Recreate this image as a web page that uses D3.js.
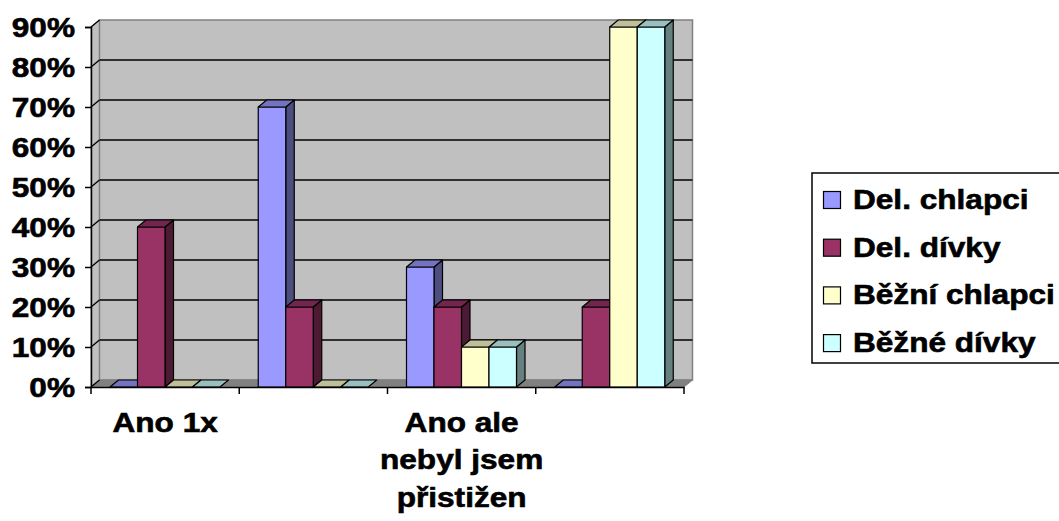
<!DOCTYPE html>
<html><head><meta charset="utf-8">
<script src="https://cdn.jsdelivr.net/npm/d3@7"></script>
<style>
html,body{margin:0;padding:0;background:#fff;}
text{font-family:"Liberation Sans",Arial,sans-serif;font-weight:bold;fill:#000;stroke:#000;stroke-width:0.6px;}
</style></head>
<body><svg id="c" width="1059" height="521"></svg>
<script>
const categories = ["Ano 1x", "", "Ano ale\nnebyl jsem\npřistižen", ""];
const seriesNames = ["Del. chlapci", "Del. dívky", "Běžní chlapci", "Běžné dívky"];
const delChlapci = [0, 0.7, 0.3, 0];
const delDivky = [0.4, 0.2, 0.2, 0.2];
const bezniChlapci = [0, 0, 0.1, 0.9];
const bezneDivky = [0, 0, 0.1, 0.9];
const yTicks = [0, 0.1, 0.2, 0.3, 0.4, 0.5, 0.6, 0.7, 0.8, 0.9];
const seriesValues = [delChlapci, delDivky, bezniChlapci, bezneDivky];
const faceColors = ["#9999FF", "#993366", "#FFFFCC", "#CCFFFF"];
const topColors = ["#7373BF", "#73264D", "#BFBF99", "#99BFBF"];
const sideColors = ["#4D4D80", "#4D1A33", "#808066", "#668080"];

const svg = d3.select("#c");
const X0 = 91, X1 = 684, Y0 = 387, Y1 = 27;
const DX = 8.5, DY = -7;
const sx = 1.17;
const FS = 27;

const x = d3.scaleBand().domain(d3.range(categories.length)).range([X0, X1]);
const x1 = d3.scaleBand().domain(d3.range(seriesNames.length)).range([19, 129]);
const y = d3.scaleLinear().domain([0, 0.9]).range([Y0, Y1]);

const pts = a => a.map(p => p.join(",")).join(" ");

// side wall (left)
svg.append("polygon").attr("points", pts([[X0, Y0], [X0 + DX, Y0 + DY], [X0 + DX, Y1 + DY], [X0, Y1]]))
  .attr("fill", "#C0C0C0").attr("stroke", "#808080").attr("stroke-width", 1);
// back wall
svg.append("polygon").attr("points", pts([[X0 + DX, Y0 + DY], [X1 + DX, Y0 + DY], [X1 + DX, Y1 + DY], [X0 + DX, Y1 + DY]]))
  .attr("fill", "#C0C0C0").attr("stroke", "#808080").attr("stroke-width", 1.5);
// floor
svg.append("polygon").attr("points", pts([[X0, Y0], [X1, Y0], [X1 + DX, Y0 + DY], [X0 + DX, Y0 + DY]]))
  .attr("fill", "#808080").attr("stroke", "#808080").attr("stroke-width", 1);

// gridlines
const grid = svg.append("g");
yTicks.filter(t => t > 0 && t < 0.9).forEach(t => {
  const yy = y(t);
  grid.append("line").attr("x1", X0 + DX).attr("x2", X1 + DX).attr("y1", yy + DY).attr("y2", yy + DY)
    .attr("stroke", "#000").attr("stroke-width", 1.6);
});
yTicks.forEach(t => {
  const yy = y(t);
  grid.append("line").attr("x1", X0).attr("x2", X0 + DX).attr("y1", yy).attr("y2", yy + DY)
    .attr("stroke", "#000").attr("stroke-width", 1.4);
});

// bars
const bars = svg.append("g");
categories.forEach((c, i) => {
  seriesValues.forEach((vals, s) => {
    const v = vals[i];
    const xl = x(i) + x1(s), xr = xl + x1.bandwidth();
    const yt = y(v), yb = y(0);
    const g = bars.append("g").attr("stroke", "#000").attr("stroke-width", 1.2).attr("stroke-linejoin", "round");
    if (v > 0) {
      g.append("polygon").attr("points", pts([[xr, yb], [xr + DX, yb + DY], [xr + DX, yt + DY], [xr, yt]])).attr("fill", sideColors[s]);
      g.append("rect").attr("x", xl).attr("y", yt).attr("width", xr - xl).attr("height", yb - yt).attr("fill", faceColors[s]);
    }
    g.append("polygon").attr("points", pts([[xl, yt], [xr, yt], [xr + DX, yt + DY], [xl + DX, yt + DY]])).attr("fill", topColors[s]);
  });
});

// y axis
const yAxisG = svg.append("g").attr("transform", `translate(${X0},0)`)
  .call(d3.axisLeft(y).tickValues(yTicks).tickFormat(d3.format(".0%")).tickSize(6).tickPadding(0));
yAxisG.select(".domain").attr("stroke", "#000").attr("stroke-width", 1.5);
yAxisG.selectAll(".tick line").attr("stroke", "#000").attr("stroke-width", 1.5);
yAxisG.selectAll(".tick text").each(function () {
  const t = d3.select(this);
  t.attr("font-size", FS).attr("font-family", null).attr("x", 0).attr("dy", "0.36em")
   .attr("text-anchor", "end").attr("transform", `translate(-16,0) scale(${sx},1)`);
});

// x axis
const xAxisG = svg.append("g").attr("transform", `translate(0,${Y0})`)
  .call(d3.axisBottom(x).tickSize(0).tickFormat(""));
xAxisG.select(".domain").attr("stroke", "#000").attr("stroke-width", 1.5);
xAxisG.selectAll(".tick").remove();
const bounds = d3.range(categories.length + 1).map(i => i < categories.length ? x(i) : X1);
bounds.forEach(b => {
  xAxisG.append("line").attr("x1", b).attr("x2", b).attr("y1", 0).attr("y2", 7).attr("stroke", "#000").attr("stroke-width", 1.5);
});
categories.forEach((c, i) => {
  if (!c) return;
  const cx = x(i) + x.bandwidth() / 2;
  const t = svg.append("text").attr("font-size", FS).attr("text-anchor", "middle")
    .attr("transform", `translate(${cx},432) scale(${sx},1)`);
  c.split("\n").forEach((line, k) => t.append("tspan").attr("x", 0).attr("y", k * 37.5).text(line));
});

// legend
const lg = svg.append("g");
lg.append("rect").attr("x", 812).attr("y", 173).attr("width", 260).attr("height", 190)
  .attr("fill", "#fff").attr("stroke", "#000").attr("stroke-width", 1.5);
seriesNames.forEach((n, s) => {
  const by = 209 + s * 47.7;
  lg.append("rect").attr("x", 823.5).attr("y", by - 17.5).attr("width", 17).attr("height", 17)
    .attr("fill", faceColors[s]).attr("stroke", "#000").attr("stroke-width", 1.2);
  lg.append("text").attr("font-size", FS).attr("transform", `translate(853,${by}) scale(${sx},1)`).text(n);
});
</script></body></html>
